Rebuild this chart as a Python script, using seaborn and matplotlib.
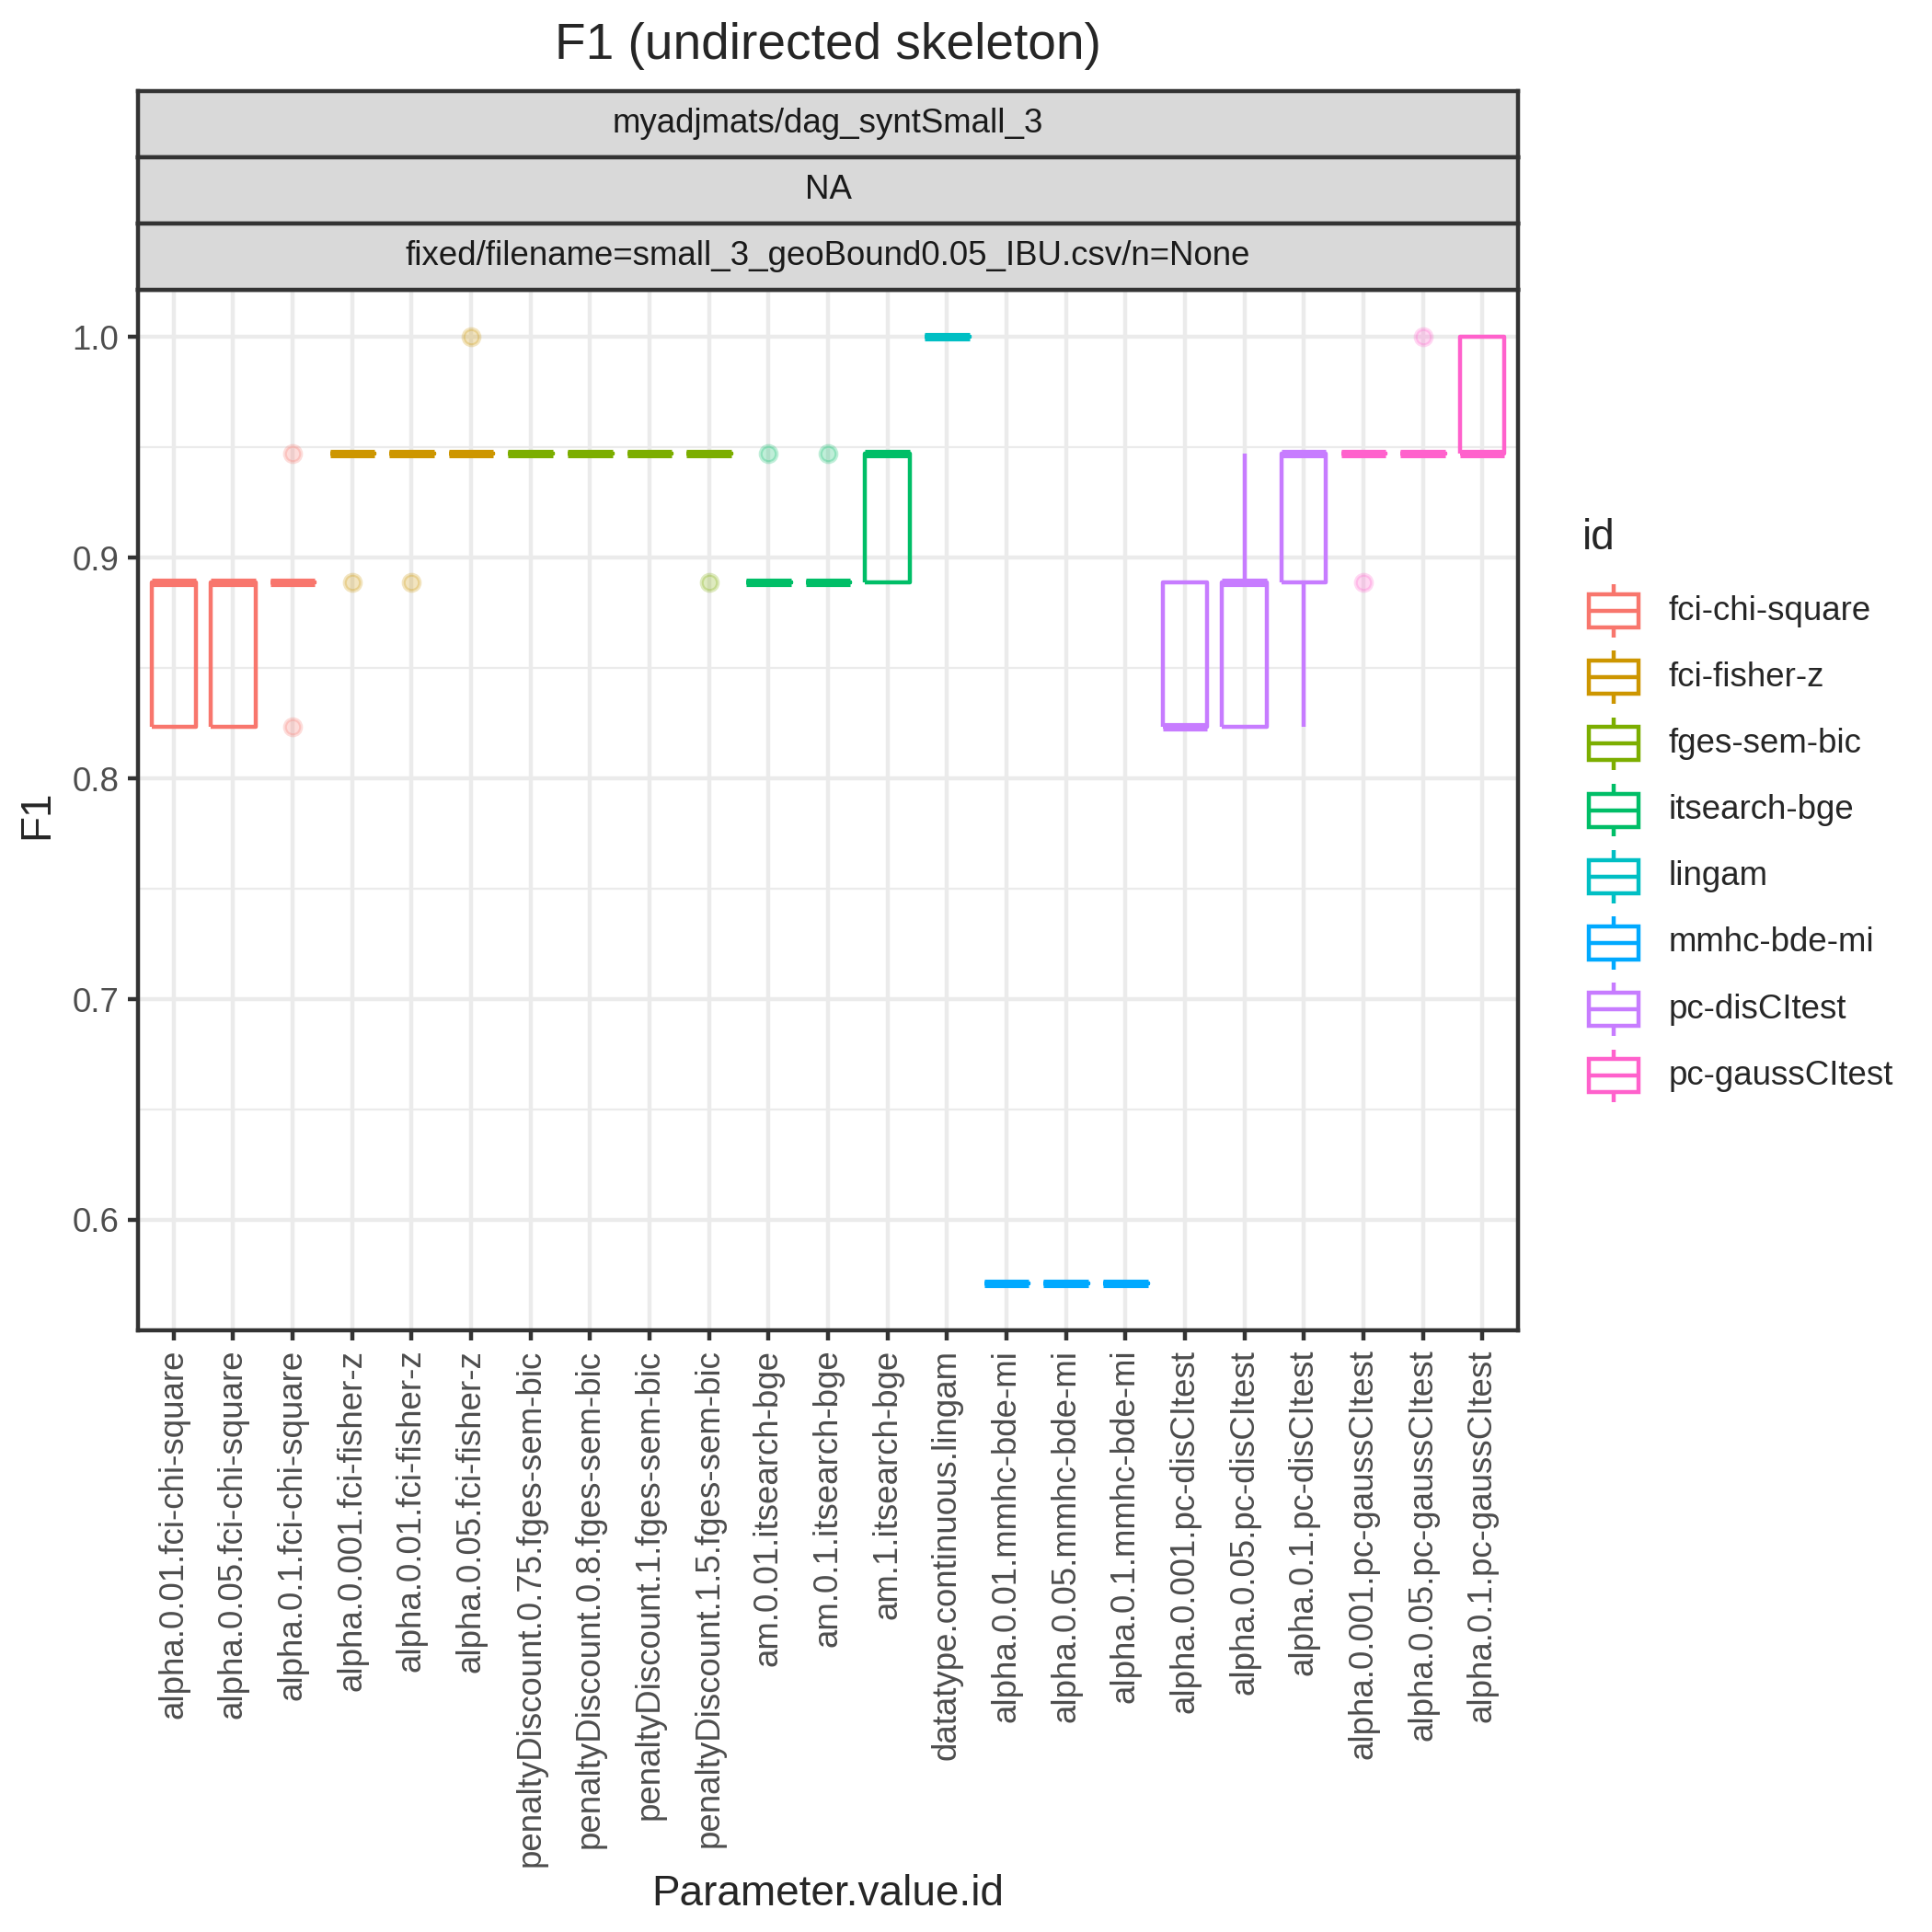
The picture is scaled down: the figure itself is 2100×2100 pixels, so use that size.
import numpy as np
import pandas as pd
import matplotlib
matplotlib.use('Agg')
import matplotlib.pyplot as plt
import seaborn as sns
from matplotlib.patches import Rectangle
from matplotlib.ticker import FixedLocator

# x categories (Parameter.value.id) and the algorithm id of each
categories = [
    'alpha.0.01.fci-chi-square', 'alpha.0.05.fci-chi-square', 'alpha.0.1.fci-chi-square',
    'alpha.0.001.fci-fisher-z', 'alpha.0.01.fci-fisher-z', 'alpha.0.05.fci-fisher-z',
    'penaltyDiscount.0.75.fges-sem-bic', 'penaltyDiscount.0.8.fges-sem-bic',
    'penaltyDiscount.1.fges-sem-bic', 'penaltyDiscount.1.5.fges-sem-bic',
    'am.0.01.itsearch-bge', 'am.0.1.itsearch-bge', 'am.1.itsearch-bge',
    'datatype.continuous.lingam',
    'alpha.0.01.mmhc-bde-mi', 'alpha.0.05.mmhc-bde-mi', 'alpha.0.1.mmhc-bde-mi',
    'alpha.0.001.pc-disCItest', 'alpha.0.05.pc-disCItest', 'alpha.0.1.pc-disCItest',
    'alpha.0.001.pc-gaussCItest', 'alpha.0.05.pc-gaussCItest', 'alpha.0.1.pc-gaussCItest',
]
category_ids = (['fci-chi-square'] * 3 + ['fci-fisher-z'] * 3 + ['fges-sem-bic'] * 4
                + ['itsearch-bge'] * 3 + ['lingam'] + ['mmhc-bde-mi'] * 3
                + ['pc-disCItest'] * 3 + ['pc-gaussCItest'] * 3)

ids = ['fci-chi-square', 'fci-fisher-z', 'fges-sem-bic', 'itsearch-bge',
       'lingam', 'mmhc-bde-mi', 'pc-disCItest', 'pc-gaussCItest']
id_colors = ['#F8766D', '#CD9600', '#7CAE00', '#00BE67',
             '#00BFC4', '#00A9FF', '#C77CFF', '#FF61CC']

# F1 of each run (5 seeds per setting)
f1_runs = [
    [0.8235, 0.8235, 0.8889, 0.8889, 0.8889],
    [0.8235, 0.8235, 0.8889, 0.8889, 0.8889],
    [0.8235, 0.8889, 0.8889, 0.8889, 0.9474],
    [0.8889, 0.9474, 0.9474, 0.9474, 0.9474],
    [0.8889, 0.9474, 0.9474, 0.9474, 0.9474],
    [0.9474, 0.9474, 0.9474, 0.9474, 1.0],
    [0.9474, 0.9474, 0.9474, 0.9474, 0.9474],
    [0.9474, 0.9474, 0.9474, 0.9474, 0.9474],
    [0.9474, 0.9474, 0.9474, 0.9474, 0.9474],
    [0.8889, 0.9474, 0.9474, 0.9474, 0.9474],
    [0.8889, 0.8889, 0.8889, 0.8889, 0.9474],
    [0.8889, 0.8889, 0.8889, 0.8889, 0.9474],
    [0.8889, 0.8889, 0.9474, 0.9474, 0.9474],
    [1.0, 1.0, 1.0, 1.0, 1.0],
    [0.5714, 0.5714, 0.5714, 0.5714, 0.5714],
    [0.5714, 0.5714, 0.5714, 0.5714, 0.5714],
    [0.5714, 0.5714, 0.5714, 0.5714, 0.5714],
    [0.8235, 0.8235, 0.8235, 0.8889, 0.8889],
    [0.8235, 0.8235, 0.8889, 0.8889, 0.9474],
    [0.8235, 0.8889, 0.9474, 0.9474, 0.9474],
    [0.8889, 0.9474, 0.9474, 0.9474, 0.9474],
    [0.9474, 0.9474, 0.9474, 0.9474, 1.0],
    [0.9474, 0.9474, 0.9474, 1.0, 1.0],
]

strip_labels = ['myadjmats/dag_syntSmall_3', 'NA',
                'fixed/filename=small_3_geoBound0.05_IBU.csv/n=None']
y_ticks = [0.6, 0.7, 0.8, 0.9, 1.0]
y_minor = [0.55, 0.65, 0.75, 0.85, 0.95]

rows = []
for cat, cid, vals in zip(categories, category_ids, f1_runs):
    for v in vals:
        rows.append({'Parameter.value.id': cat, 'id': cid, 'F1': v})
df = pd.DataFrame(rows)

sns.set_style('white')
plt.rcParams['font.family'] = ['Liberation Sans', 'DejaVu Sans']

W = 2100.0
fig = plt.figure(figsize=(7, 7), dpi=300)
px_l, px_r, px_t, px_b = 150, 1650, 315, 1446
ax = fig.add_axes([px_l / W, 1 - px_b / W, (px_r - px_l) / W, (px_b - px_t) / W])

lw = 1.07
sns.boxplot(data=df, x='Parameter.value.id', y='F1', hue='id',
            order=categories, hue_order=ids, palette=id_colors,
            fill=False, dodge=False, width=0.75, linewidth=lw,
            showcaps=False, whis=1.5, legend=False,
            medianprops={'linewidth': 2.2},
            flierprops={'marker': 'o', 'markersize': 4.2}, ax=ax)

# ggplot-like outliers: filled, semi-transparent
for ln in ax.lines:
    if ln.get_marker() == 'o':
        c = ln.get_markeredgecolor()
        ln.set_markerfacecolor(c)
        ln.set_alpha(0.25)
    ln.set_solid_capstyle('butt')

ax.set_xlim(-0.6, len(categories) - 0.4)
lo, hi = 0.5714, 1.0
pad = (hi - lo) * 0.05
ax.set_ylim(lo - pad, hi + pad)
ax.yaxis.set_major_locator(FixedLocator(y_ticks))
ax.yaxis.set_minor_locator(FixedLocator(y_minor))
ax.set_yticklabels([f'{t:.1f}' for t in y_ticks])
ax.set_axisbelow(True)
ax.grid(which='major', axis='both', color='#EBEBEB', linewidth=lw)
ax.grid(which='minor', axis='y', color='#EBEBEB', linewidth=lw / 2)
ax.tick_params(which='major', length=2.75, width=lw, color='#333333',
               labelsize=8.8, labelcolor='#4D4D4D', pad=2.2,
               bottom=True, left=True)
ax.tick_params(which='minor', length=0)
plt.setp(ax.get_xticklabels(), rotation=90)
for sp in ax.spines.values():
    sp.set_color('#333333')
    sp.set_linewidth(lw)
ax.set_xlabel('')
ax.set_ylabel('')

# facet strips
strip_h = 72
for i, lab in enumerate(strip_labels):
    top = 99 + i * strip_h
    sax = fig.add_axes([px_l / W, 1 - (top + strip_h) / W, (px_r - px_l) / W, strip_h / W])
    sax.set_facecolor('#D9D9D9')
    sax.set_xticks([])
    sax.set_yticks([])
    for sp in sax.spines.values():
        sp.set_color('#333333')
        sp.set_linewidth(lw)
    sax.text(0.5, 0.5, lab, ha='center', va='center', fontsize=8.8,
             color='#1A1A1A', transform=sax.transAxes)

fig.text((px_l + px_r) / 2 / W, 1 - 64 / W, 'F1 (undirected skeleton)',
         ha='center', va='baseline', fontsize=13.2)
fig.text((px_l + px_r) / 2 / W, 1 - 2059 / W, 'Parameter.value.id',
         ha='center', va='center', fontsize=11)
fig.text(40 / W, 1 - 885 / W, 'F1', ha='center', va='center',
         rotation=90, fontsize=11)

# legend with boxplot keys
lax = fig.add_axes([0, 0, 1, 1])
lax.set_xlim(0, W)
lax.set_ylim(W, 0)
lax.axis('off')
lax.text(1720, 585, 'id', ha='left', va='center', fontsize=11)
key = 72.2
for i, (name, col) in enumerate(zip(ids, id_colors)):
    cy = 664 + i * key
    kx = 1718
    lax.add_patch(Rectangle((kx + 0.125 * key, cy - 0.25 * key), 0.75 * key, 0.5 * key,
                            fill=False, edgecolor=col, linewidth=lw))
    lax.plot([kx + 0.125 * key, kx + 0.875 * key], [cy, cy], color=col, lw=lw,
             solid_capstyle='butt')
    lax.plot([kx + 0.5 * key] * 2, [cy - 0.4 * key, cy - 0.25 * key], color=col, lw=lw,
             solid_capstyle='butt')
    lax.plot([kx + 0.5 * key] * 2, [cy + 0.25 * key, cy + 0.4 * key], color=col, lw=lw,
             solid_capstyle='butt')
    lax.text(1814, cy, name, ha='left', va='center', fontsize=8.8)

fig.savefig('out.png', dpi=300)
